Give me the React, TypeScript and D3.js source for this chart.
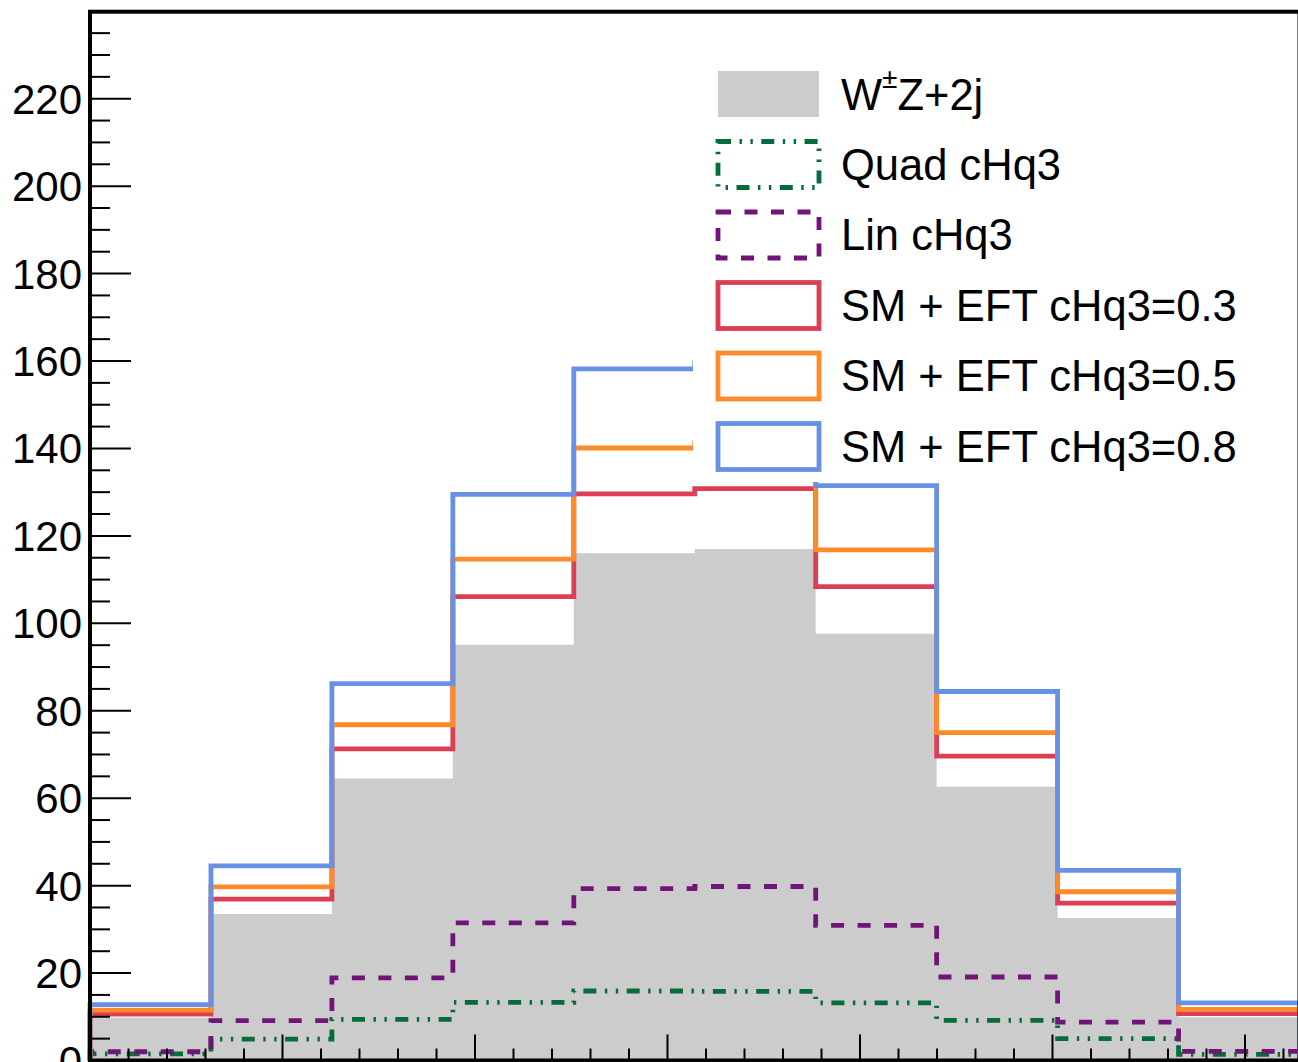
import React from 'react';
import * as d3 from 'd3';

const width = 1298;
const height = 1062;

// 10 bins over [0, 2pi]
const nBins = 10;
const xMax = 2 * Math.PI;

const wzValues = [9.8, 33.5, 64.5, 95.1, 116.0, 117.0, 97.6, 62.6, 32.6, 9.9];
const quadValues = [1.5, 4.9, 9.4, 13.3, 15.9, 15.8, 13.2, 9.2, 5.0, 1.4];
const linValues = [2.0, 9.1, 18.9, 31.5, 39.3, 39.8, 30.9, 19.1, 8.8, 2.1];
const eft03Values = [10.6, 36.9, 71.3, 106.1, 129.6, 130.8, 108.4, 69.6, 36.0, 10.7];
const eft05Values = [11.5, 39.7, 76.8, 114.7, 140.1, 141.3, 116.8, 75.0, 38.6, 11.7];
const eft08Values = [12.8, 44.5, 86.2, 129.5, 158.2, 159.6, 131.5, 84.4, 43.5, 13.2];

const yMajorTicks = [0, 20, 40, 60, 80, 100, 120, 140, 160, 180, 200, 220];
const xMajorTicks = [0, 1, 2, 3, 4, 5, 6];

const font = '"Liberation Sans", Arial, Helvetica, sans-serif';

const dashLin = '13,13.5';
const dashQuad = '13,8.5,2.4,8.5,2.4,8.5';

const lineSeries = [
  { name: 'Quad cHq3', values: quadValues, color: '#056c3a', dash: dashQuad },
  { name: 'Lin cHq3', values: linValues, color: '#711477', dash: dashLin },
  { name: 'SM + EFT cHq3=0.3', values: eft03Values, color: '#dc3e54', dash: null },
  { name: 'SM + EFT cHq3=0.5', values: eft05Values, color: '#fd8b2a', dash: null },
  { name: 'SM + EFT cHq3=0.8', values: eft08Values, color: '#6891e5', dash: null },
];

export default function App() {
  const x = d3.scaleLinear().domain([0, xMax]).range([90, 1299.5]);
  const y = d3.scaleLinear().domain([0, 239.9]).range([1060.5, 11.7]);
  const edges = d3.range(nBins + 1).map(i => (i * xMax) / nBins);

  const outline = (vals: number[]) => {
    const pts: [number, number][] = [[edges[0], 0]];
    vals.forEach((v, i) => {
      pts.push([edges[i], v]);
      pts.push([edges[i + 1], v]);
    });
    pts.push([edges[nBins], 0]);
    return d3.line()(pts.map(([a, b]) => [x(a), y(b)] as [number, number])) || '';
  };

  const area = d3
    .area<[number, number]>()
    .x(d => x(d[0]))
    .y0(y(0))
    .y1(d => y(d[1]))
    .curve(d3.curveStepAfter);
  const areaPts: [number, number][] = wzValues.map((v, i) => [edges[i], v] as [number, number]);
  areaPts.push([edges[nBins], wzValues[nBins - 1]]);

  const yMinor = d3.range(0, 240, 5).filter(v => v % 20 !== 0);
  const xMinor = d3.range(0, xMax, 0.2).filter(v => Math.abs(v - Math.round(v)) > 1e-6);

  // legend layout
  const legX = 718;
  const legW = 101;
  const legH = 46;
  const legY0 = 94;
  const legStep = 70.5;
  const textX = 841;
  const fs = 43.5;

  return (
    <svg
      width={width}
      height={height}
      style={{ position: 'absolute', left: 0, top: 0, background: '#fff' }}
      fontFamily={font}
    >
      <rect x={0} y={0} width={width} height={height} fill="#fff" />
      <path d={area(areaPts) || ''} fill="#cccccc" stroke="none" />
      {lineSeries.map(s => (
        <path
          key={s.name}
          d={outline(s.values)}
          fill="none"
          stroke={s.color}
          strokeWidth={4.8}
          strokeDasharray={s.dash || undefined}
          strokeLinejoin="miter"
        />
      ))}

      {/* legend */}
      <rect x={693} y={45} width={620} height={437} fill="#fff" />
      <rect x={legX} y={legY0 - legH / 2} width={legW} height={legH} fill="#cccccc" />
      <text x={textX} y={legY0 + 16} fontSize={fs} fill="#000">
        W<tspan fontSize={28} dy={-22}>±</tspan>
        <tspan dy={22}>Z+2j</tspan>
      </text>
      {lineSeries.map((s, i) => {
        const cy = legY0 + legStep * (i + 1);
        return (
          <g key={s.name}>
            <rect
              x={legX}
              y={cy - legH / 2}
              width={legW}
              height={legH}
              fill="none"
              stroke={s.color}
              strokeWidth={4.8}
              strokeDasharray={s.dash || undefined}
            />
            <text x={textX} y={cy + 15} fontSize={fs} fill="#000">
              {s.name}
            </text>
          </g>
        );
      })}

      {/* y axis ticks */}
      {yMajorTicks.map(v => (
        <g key={'ym' + v}>
          <line x1={90} x2={131} y1={y(v)} y2={y(v)} stroke="#000" strokeWidth={2} />
          <text x={82} y={y(v) + 15} fontSize={42} textAnchor="end" fill="#000">
            {v}
          </text>
        </g>
      ))}
      {yMinor.map(v => (
        <line key={'yn' + v} x1={90} x2={110} y1={y(v)} y2={y(v)} stroke="#000" strokeWidth={2} />
      ))}

      {/* x axis ticks */}
      {xMajorTicks.map(v => (
        <line key={'xm' + v} x1={x(v)} x2={x(v)} y1={y(0)} y2={y(0) - 26} stroke="#000" strokeWidth={2} />
      ))}
      {xMinor.map(v => (
        <line key={'xn' + v} x1={x(v)} x2={x(v)} y1={y(0)} y2={y(0) - 12} stroke="#000" strokeWidth={2} />
      ))}

      {/* frame */}
      <rect
        x={x(0)}
        y={y(239.9)}
        width={x(xMax) - x(0)}
        height={y(0) - y(239.9)}
        fill="none"
        stroke="#000"
        strokeWidth={4}
      />
    </svg>
  );
}
